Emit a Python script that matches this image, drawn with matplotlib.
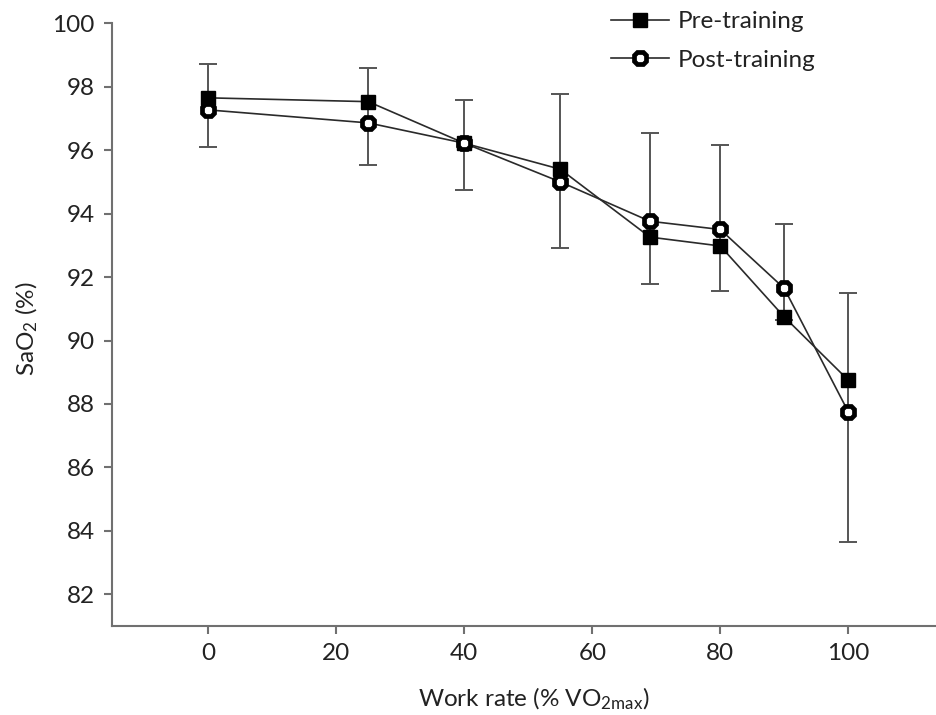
import matplotlib
matplotlib.use("Agg")
import matplotlib.pyplot as plt
import numpy as np

# ---- data ----
work_rate = [0, 25, 40, 55, 69, 80, 90, 100]
pre_training = [97.65, 97.53, 96.22, 95.40, 93.26, 92.98, 90.74, 88.75]
post_training = [97.27, 96.86, 96.22, 95.00, 93.76, 93.50, 91.64, 87.75]
err_top = [98.72, 98.58, 97.58, 97.77, 96.53, 96.16, 93.67, 91.51]
err_bottom = [96.09, 95.53, 94.76, 92.93, 91.77, 91.56, 90.65, 83.65]
x_ticks = [0, 20, 40, 60, 80, 100]
y_ticks = [82, 84, 86, 88, 90, 92, 94, 96, 98, 100]

plt.rcParams['font.family'] = ['Lato', 'DejaVu Sans']
plt.rcParams['mathtext.fontset'] = 'custom'
plt.rcParams['mathtext.rm'] = 'Lato'
plt.rcParams['mathtext.it'] = 'Lato:italic'
plt.rcParams['mathtext.bf'] = 'Lato:bold'

W, H = 936, 715
fig = plt.figure(figsize=(W / 100, H / 100), dpi=100)
ax = fig.add_axes([112 / W, 1 - 626 / H, 1 - 112 / W, (626 - 23.3) / H])

top = np.array(err_top)
bot = np.array(err_bottom)
mid = (top + bot) / 2
half = (top - bot) / 2
ax.errorbar(work_rate, mid, yerr=half, fmt='none', ecolor='#555555',
            elinewidth=1.4, capsize=6.5, capthick=1.4, zorder=1)

ax.plot(work_rate, pre_training, color='#2a2a2a', lw=1.2, marker='s',
        markersize=10.5, markerfacecolor='black', markeredgecolor='black',
        label='Pre-training', zorder=3)
ax.plot(work_rate, post_training, color='#2a2a2a', lw=1.2, marker='8',
        markersize=9.5, markerfacecolor='white', markeredgecolor='black',
        markeredgewidth=3.4, label='Post-training', zorder=4)

ax.set_xlim(-15.05, 113.7)
ax.set_ylim(81.0, 100.0)
ax.set_xticks(x_ticks)
ax.set_yticks(y_ticks)

for s in ['top', 'right']:
    ax.spines[s].set_visible(False)
for s in ['left', 'bottom']:
    ax.spines[s].set_color('#707070')
    ax.spines[s].set_linewidth(1.5)

ax.tick_params(axis='both', direction='out', length=6, width=1.5,
               colors='#707070', labelcolor='#222222', labelsize=17.5, pad=6.5)

ax.set_xlabel(r'Work rate (% VO$_{\mathrm{2max}}$)', fontsize=17.5, color='#222222')
ax.xaxis.set_label_coords((534 - 112) / 824, -(686 - 626) / 602.7)
ax.set_ylabel(r'SaO$_{\mathrm{2}}$ (%)', fontsize=17.5, color='#222222')
ax.yaxis.set_label_coords((40 - 112) / 824, (626 - 329) / 602.7)

leg = ax.legend(loc='upper left', bbox_to_anchor=(611 / W, 1 - 11 / H),
                bbox_transform=fig.transFigure, frameon=False, fontsize=17.5,
                borderpad=0, borderaxespad=0, handlelength=2.4,
                handletextpad=0.35, labelspacing=0.72)
for t in leg.get_texts():
    t.set_color('#222222')

fig.savefig('out.png', dpi=100)
